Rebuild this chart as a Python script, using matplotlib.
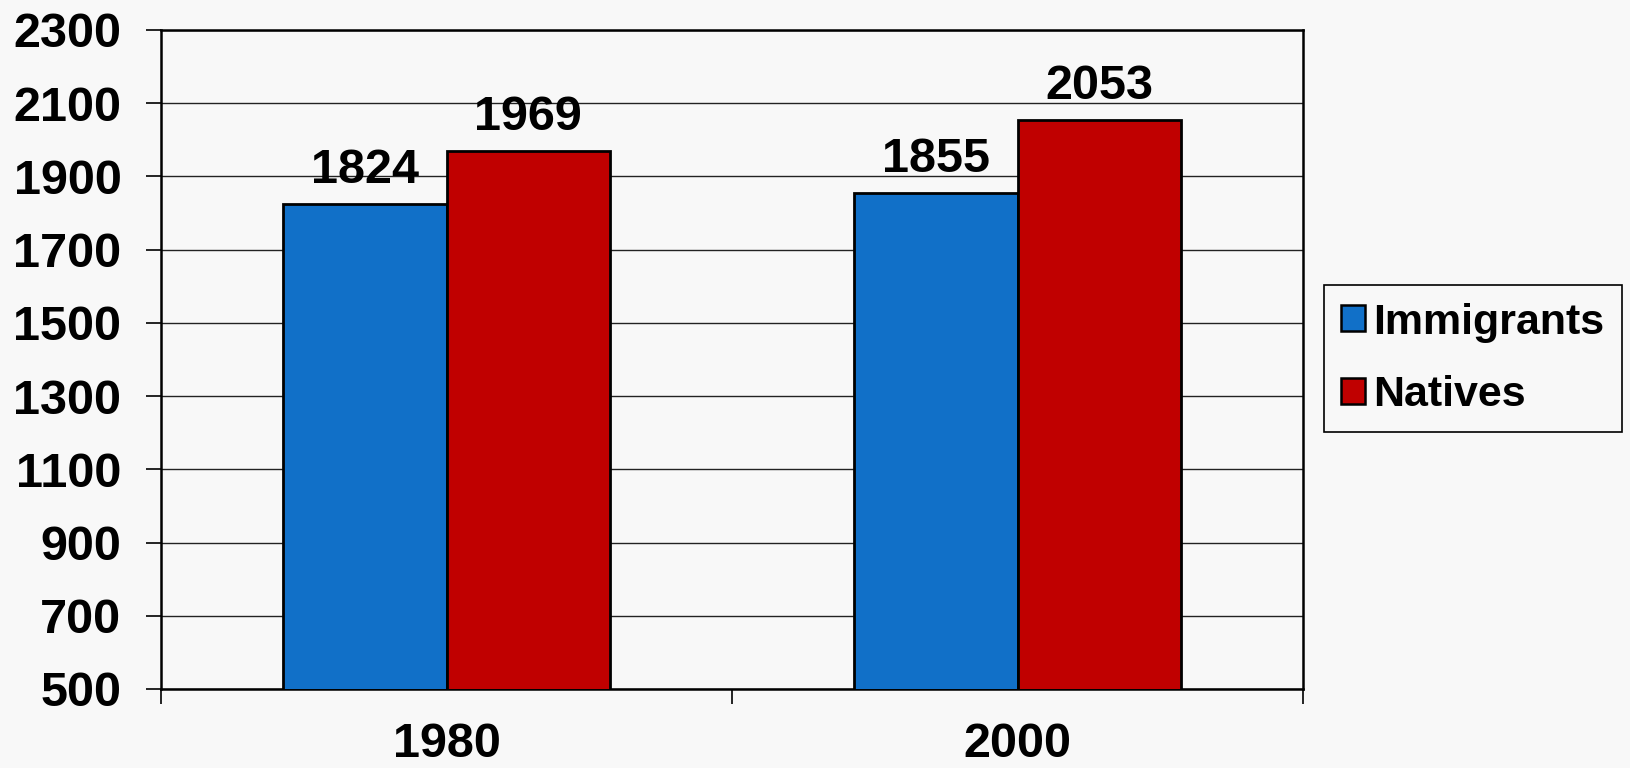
import numpy as np
import matplotlib
matplotlib.use("Agg")
import matplotlib.pyplot as plt
from matplotlib.patches import Patch

plt.rcParams["font.family"] = ["Liberation Sans", "DejaVu Sans"]
plt.rcParams["font.weight"] = "bold"

years = ["1980", "2000"]
immigrants = [1824, 1855]
natives = [1969, 2053]
y_ticks = [500, 700, 900, 1100, 1300, 1500, 1700, 1900, 2100, 2300]

BLUE = "#1170c8"
RED = "#c00000"
BG = "#f8f8f8"

fig = plt.figure(figsize=(16.31, 7.68), dpi=100, facecolor=BG)
ax = fig.add_axes([0.0987, 0.1029, 0.7003, 0.8581])
ax.set_facecolor("none")

x = np.arange(len(years))
width = 0.286
b1 = ax.bar(x - width / 2, immigrants, width, color=BLUE,
            edgecolor="black", linewidth=2.0, label="Immigrants", zorder=3)
b2 = ax.bar(x + width / 2, natives, width, color=RED,
            edgecolor="black", linewidth=2.0, label="Natives", zorder=3)

for bars in (b1, b2):
    for bar in bars:
        h = bar.get_height()
        ax.annotate(f"{h:.0f}", (bar.get_x() + bar.get_width() / 2, h),
                    xytext=(0, 8), textcoords="offset points",
                    ha="center", va="bottom", fontsize=35, fontweight="bold")

ax.set_xlim(-0.5, len(years) - 0.5)
ax.set_ylim(500, 2300)
ax.set_yticks(y_ticks)
ax.set_yticklabels([str(t) for t in y_ticks], fontsize=35, fontweight="bold")

# category labels centred, tick marks on the category boundaries
ax.set_xticks(x)
ax.set_xticklabels(years, fontsize=35, fontweight="bold")
ax.tick_params(axis="x", which="major", length=0, pad=24)
ax.set_xticks(np.arange(-0.5, len(years)), minor=True)
ax.tick_params(axis="x", which="minor", length=11, width=1.2, direction="out")
ax.tick_params(axis="y", length=10.5, width=1.2, pad=18, direction="out")

ax.yaxis.grid(True, color="#222222", linewidth=1.0)
ax.set_axisbelow(True)
for s in ax.spines.values():
    s.set_linewidth(1.8)
    s.set_color("black")

handles = [Patch(facecolor=BLUE, edgecolor="black", linewidth=1.8),
           Patch(facecolor=RED, edgecolor="black", linewidth=1.8)]
leg = fig.legend(handles, ["Immigrants", "Natives"], loc="center left",
                 bbox_to_anchor=(0.8118, 0.533), bbox_transform=fig.transFigure,
                 prop={"size": 31, "weight": "bold"}, fancybox=False,
                 framealpha=1.0, edgecolor="black", facecolor=BG,
                 handlelength=0.55, handleheight=0.55, handletextpad=0.2,
                 labelspacing=0.75, borderpad=0.4, borderaxespad=0)
leg.get_frame().set_linewidth(1.2)

fig.savefig("out.png", dpi=100, facecolor=BG)
